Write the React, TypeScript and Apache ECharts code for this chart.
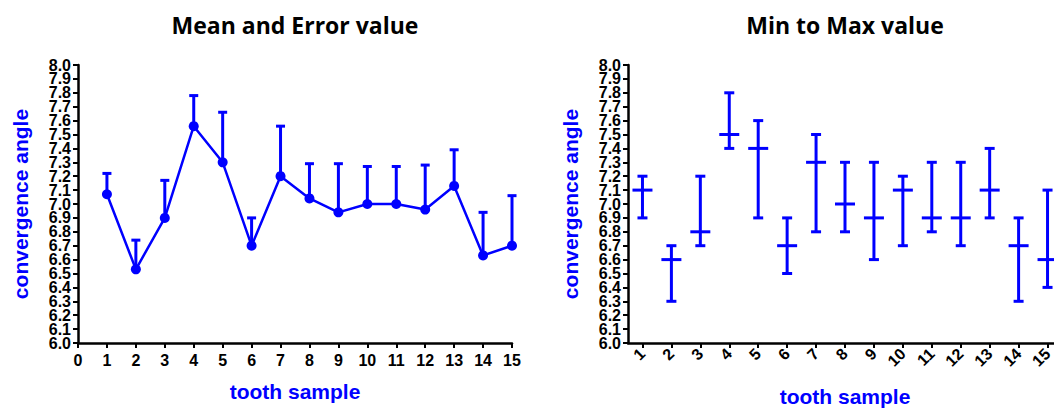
import React, { useEffect, useRef } from "react";
import * as echarts from "echarts";

const samples = ["1", "2", "3", "4", "5", "6", "7", "8", "9", "10", "11", "12", "13", "14", "15"];
const sampleNumbers = [1, 2, 3, 4, 5, 6, 7, 8, 9, 10, 11, 12, 13, 14, 15];
const meanValues = [7.07, 6.53, 6.9, 7.56, 7.3, 6.7, 7.2, 7.04, 6.94, 7.0, 7.0, 6.96, 7.13, 6.63, 6.7];
const errorTop = [7.22, 6.74, 7.17, 7.78, 7.66, 6.9, 7.56, 7.29, 7.29, 7.27, 7.27, 7.28, 7.39, 6.94, 7.06];
const rangeMin = [6.9, 6.3, 6.7, 7.4, 6.9, 6.5, 6.8, 6.8, 6.6, 6.7, 6.8, 6.7, 6.9, 6.3, 6.4];
const rangeMid = [7.1, 6.6, 6.8, 7.5, 7.4, 6.7, 7.3, 7.0, 6.9, 7.1, 6.9, 6.9, 7.1, 6.7, 6.6];
const rangeMax = [7.2, 6.7, 7.2, 7.8, 7.6, 6.9, 7.5, 7.3, 7.3, 7.2, 7.3, 7.3, 7.4, 6.9, 7.1];
const yTickLabels = [
  "6.0", "6.1", "6.2", "6.3", "6.4", "6.5", "6.6", "6.7", "6.8", "6.9", "7.0",
  "7.1", "7.2", "7.3", "7.4", "7.5", "7.6", "7.7", "7.8", "7.9", "8.0",
];
const titles = ["Mean and Error value", "Min to Max value"];
const yName = "convergence angle";
const xName = "tooth sample";

const BLUE = "#0000ff";
const AXIS_FONT = "'Liberation Sans', Arial, sans-serif";

// value axis that carries the data scale and the axis name
function yValueAxis(gridIndex: number) {
  return {
    type: "value",
    gridIndex,
    position: "left",
    min: 6,
    max: 8,
    interval: 0.1,
    name: yName,
    nameLocation: "middle",
    nameGap: 47,
    nameTextStyle: { color: BLUE, fontWeight: "bold", fontSize: 21, fontFamily: AXIS_FONT },
    axisLine: { show: false },
    axisTick: { show: false },
    axisLabel: { show: false },
    splitLine: { show: false },
  };
}

// category axis overlaid on the value axis, showing every tick label
function yLabelAxis(gridIndex: number) {
  return {
    type: "category",
    gridIndex,
    position: "left",
    offset: 0,
    data: yTickLabels,
    boundaryGap: false,
    axisLine: { show: true, lineStyle: { color: "#000", width: 2.5 } },
    axisTick: { show: true, length: 5, interval: 0, lineStyle: { color: "#000", width: 2 } },
    axisLabel: {
      interval: 0,
      color: "#000",
      fontSize: 16,
      fontWeight: "bold",
      fontFamily: AXIS_FONT,
      margin: 7,
    },
    splitLine: { show: false },
  };
}

export default function App() {
  const ref = useRef<HTMLDivElement>(null);
  useEffect(() => {
    if (!ref.current) return;
    const chart = echarts.init(ref.current, undefined, { renderer: "svg" });
    const meanData = sampleNumbers.map((x, i) => [x, meanValues[i]]);
    const errData = sampleNumbers.map((x, i) => [x, meanValues[i], errorTop[i]]);
    const rangeData = samples.map((_, i) => [i, rangeMin[i], rangeMid[i], rangeMax[i]]);
    const titleStyle = { fontFamily: "'Open Sans', sans-serif", fontWeight: "bold", fontSize: 23, color: "#000" };
    chart.setOption({
      animation: false,
      title: [
        { text: titles[0], left: 295, top: 13, textAlign: "center", padding: 0, textStyle: titleStyle },
        { text: titles[1], left: 845, top: 13, textAlign: "center", padding: 0, textStyle: titleStyle },
      ],
      grid: [
        { left: 78, top: 65, width: 434, height: 278, outerBoundsMode: "none", containLabel: false },
        { left: 628, top: 65, width: 434, height: 278, outerBoundsMode: "none", containLabel: false },
      ],
      xAxis: [
        {
          type: "value",
          gridIndex: 0,
          min: 0,
          max: 15,
          interval: 1,
          name: xName,
          nameLocation: "middle",
          nameGap: 38,
          nameTextStyle: { color: BLUE, fontWeight: "bold", fontSize: 21, fontFamily: AXIS_FONT },
          axisLine: { show: true, lineStyle: { color: "#000", width: 2.5 } },
          axisTick: { show: true, length: 5, lineStyle: { color: "#000", width: 2 } },
          axisLabel: {
            color: "#000",
            fontSize: 16,
            fontWeight: "bold",
            fontFamily: AXIS_FONT,
            margin: 9,
            showMinLabel: true,
            showMaxLabel: true,
          },
          splitLine: { show: false },
        },
        {
          type: "category",
          gridIndex: 1,
          data: samples,
          boundaryGap: true,
          name: xName,
          nameLocation: "middle",
          nameGap: 43,
          nameTextStyle: { color: BLUE, fontWeight: "bold", fontSize: 21, fontFamily: AXIS_FONT },
          axisLine: { show: true, lineStyle: { color: "#000", width: 2.5 } },
          axisTick: { show: true, alignWithLabel: true, length: 5, lineStyle: { color: "#000", width: 2 } },
          axisLabel: {
            color: "#000",
            fontSize: 16,
            fontWeight: "bold",
            fontFamily: AXIS_FONT,
            rotate: 45,
            margin: 8,
            interval: 0,
          },
          splitLine: { show: false },
        },
      ],
      yAxis: [yValueAxis(0), yValueAxis(1), yLabelAxis(0), yLabelAxis(1)],
      series: [
        {
          type: "custom",
          xAxisIndex: 0,
          yAxisIndex: 0,
          data: errData,
          renderItem: (params: any, api: any) => {
            const x = api.value(0);
            const base = api.coord([x, api.value(1)]);
            const top = api.coord([x, api.value(2)]);
            const style = { stroke: BLUE, lineWidth: 3 };
            return {
              type: "group",
              children: [
                { type: "line", shape: { x1: base[0], y1: base[1], x2: top[0], y2: top[1] }, style },
                { type: "line", shape: { x1: top[0] - 4.5, y1: top[1], x2: top[0] + 4.5, y2: top[1] }, style },
              ],
            };
          },
          z: 2,
        },
        {
          type: "line",
          xAxisIndex: 0,
          yAxisIndex: 0,
          data: meanData,
          symbol: "circle",
          symbolSize: 10,
          lineStyle: { color: BLUE, width: 2.5 },
          itemStyle: { color: BLUE },
          z: 3,
        },
        {
          type: "custom",
          xAxisIndex: 1,
          yAxisIndex: 1,
          data: rangeData,
          renderItem: (params: any, api: any) => {
            const x = api.value(0);
            const lo = api.coord([x, api.value(1)]);
            const mid = api.coord([x, api.value(2)]);
            const hi = api.coord([x, api.value(3)]);
            const style = { stroke: BLUE, lineWidth: 3 };
            return {
              type: "group",
              children: [
                { type: "line", shape: { x1: lo[0], y1: lo[1], x2: hi[0], y2: hi[1] }, style },
                { type: "line", shape: { x1: lo[0] - 5, y1: lo[1], x2: lo[0] + 5, y2: lo[1] }, style },
                { type: "line", shape: { x1: hi[0] - 5, y1: hi[1], x2: hi[0] + 5, y2: hi[1] }, style },
                { type: "line", shape: { x1: mid[0] - 10, y1: mid[1], x2: mid[0] + 10, y2: mid[1] }, style },
              ],
            };
          },
        },
      ],
    });
    return () => chart.dispose();
  }, []);
  return (
    <div
      ref={ref}
      style={{ position: "fixed", left: 0, top: 0, width: 1054, height: 408, background: "#fff" }}
    />
  );
}
